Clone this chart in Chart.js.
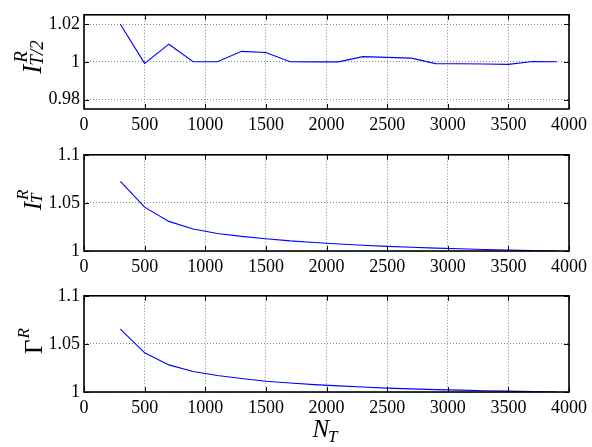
<!DOCTYPE html>
<html>
<head>
<meta charset="utf-8">
<script src="https://cdn.jsdelivr.net/npm/chart.js@4.4.0/dist/chart.umd.min.js"></script>
<style>
  html, body { margin: 0; padding: 0; background: #fff; }
  #wrap { position: relative; width: 592px; height: 447px; }
  canvas { position: absolute; left: 0; }
</style>
</head>
<body>
<div id="wrap">
  <canvas id="panelHalf" width="592" height="140" style="top:0px"></canvas>
  <canvas id="panelFull" width="592" height="141" style="top:140px"></canvas>
  <canvas id="panelGamma" width="592" height="166" style="top:281px"></canvas>
</div>
<script>
// Number of time steps N_T used in each run
const samples = [300, 500, 700, 900, 1100, 1300, 1500, 1700, 1900, 2100,
                 2300, 2500, 2700, 2900, 3100, 3300, 3500, 3700, 3900];

// Ratio I^R at T/2
const halfRatio = [1.0200, 0.9992, 1.0094, 1.0001, 1.0001, 1.0056, 1.0050, 1.0001, 1.0000, 1.0000,
                   1.0028, 1.0024, 1.0020, 0.9991, 0.9990, 0.9989, 0.9987, 1.0002, 1.0001];

// Ratio I^R at T
const fullRatio = [1.0724, 1.0456, 1.0308, 1.0229, 1.0182, 1.0152, 1.0128, 1.0105, 1.0088, 1.0073,
                   1.0060, 1.0048, 1.0039, 1.0030, 1.0023, 1.0016, 1.0010, 1.0005, 1.0000];

// Ratio Gamma^R
const gammaRatio = [1.0653, 1.0407, 1.0282, 1.0213, 1.0172, 1.0140, 1.0112, 1.0093, 1.0077, 1.0064,
                    1.0052, 1.0040, 1.0032, 1.0025, 1.0019, 1.0013, 1.0009, 1.0004, 1.0000];

// Axis ticks
const xTicks = [0, 500, 1000, 1500, 2000, 2500, 3000, 3500, 4000];
const xTickLabels = ['0', '500', '1000', '1500', '2000', '2500', '3000', '3500', '4000'];
const halfTicks = [0.98, 1, 1.02];
const halfTickLabels = ['0.98', '1', '1.02'];
const unitTicks = [1, 1.05, 1.1];
const unitTickLabels = ['1', '1.05', '1.1'];

const SERIF = "'Liberation Serif', 'DejaVu Serif', serif";
Chart.defaults.font.family = SERIF;
Chart.defaults.color = '#000';
const TICK_FONT = { family: SERIF, size: 18 };

function labelFor(values, labels, v) {
  const i = values.findIndex(t => Math.abs(t - v) < 1e-9);
  return i >= 0 ? labels[i] : '';
}

// Draws a math-style label rotated to read bottom-to-top.
// runs: {text, font, u (along baseline), v (+ = below baseline)}
function rotatedMath(ctx, baseX, centerY, runs) {
  ctx.save();
  let total = 0;
  runs.forEach(r => { ctx.font = r.font; r.w = ctx.measureText(r.text).width; total = Math.max(total, r.u + r.w); });
  ctx.translate(baseX, centerY);
  ctx.rotate(-Math.PI / 2);
  ctx.textAlign = 'left';
  ctx.textBaseline = 'alphabetic';
  ctx.fillStyle = '#000';
  runs.forEach(r => { ctx.font = r.font; ctx.fillText(r.text, r.u - total / 2, r.v); });
  ctx.restore();
}

function measure(ctx, font, text) {
  ctx.save(); ctx.font = font; const w = ctx.measureText(text).width; ctx.restore(); return w;
}

const MAIN_IT = 'italic 25px ' + SERIF;
const MAIN_UP = '25px ' + SERIF;
const SCRIPT_IT = 'italic 17px ' + SERIF;
const TOP_MAIN_IT = 'italic 27px ' + SERIF;
const TOP_SCRIPT_IT = 'italic 19px ' + SERIF;

// Axis-box frame with inward ticks on all four sides
const framePlugin = {
  id: 'frame',
  afterDraw(chart, args, opts) {
    const ctx = chart.ctx;
    const { left, top, right, bottom } = chart.chartArea;
    const xs = chart.scales.x, ys = chart.scales.y;
    ctx.save();
    ctx.strokeStyle = '#000';
    ctx.lineWidth = 1;
    ctx.beginPath();
    xTicks.forEach(v => {
      const p = Math.round(xs.getPixelForValue(v)) + 0.5;
      ctx.moveTo(p, top); ctx.lineTo(p, top + 5);
      ctx.moveTo(p, bottom); ctx.lineTo(p, bottom - 5);
    });
    opts.yTicks.forEach(v => {
      const p = Math.round(ys.getPixelForValue(v)) + 0.5;
      ctx.moveTo(left, p); ctx.lineTo(left + 5, p);
      ctx.moveTo(right, p); ctx.lineTo(right - 5, p);
    });
    ctx.stroke();
    ctx.lineWidth = 1.6;
    ctx.strokeRect(left, top, right - left, bottom - top);
    if (opts.drawLabel) opts.drawLabel(ctx, chart);
    ctx.restore();
  }
};

function makePanel(id, values, yMin, yMax, yTicks, yLabels, areaTop, areaBottom, drawLabel) {
  const canvas = document.getElementById(id);
  const h = canvas.height;
  return new Chart(canvas, {
    type: 'line',
    data: {
      datasets: [{
        data: samples.map((x, i) => ({ x: x, y: values[i] })),
        borderColor: '#0000ff',
        borderWidth: 1.1,
        pointRadius: 0,
        tension: 0,
        fill: false
      }]
    },
    options: {
      responsive: false,
      animation: false,
      devicePixelRatio: 1,
      events: [],
      layout: { padding: { left: 0, right: 19, top: areaTop, bottom: 0 } },
      plugins: {
        legend: { display: false },
        tooltip: { enabled: false },
        frame: { yTicks: yTicks, drawLabel: drawLabel }
      },
      scales: {
        x: {
          type: 'linear', min: 0, max: 4000,
          afterBuildTicks: s => { s.ticks = xTicks.map(v => ({ value: v })); },
          afterFit: s => { s.height = h - areaBottom; },
          ticks: {
            font: TICK_FONT, color: '#000', padding: 5, maxRotation: 0, autoSkip: false,
            callback: v => labelFor(xTicks, xTickLabels, v)
          },
          grid: { color: '#8a8a8a', lineWidth: 1, drawTicks: false },
          border: { display: false, dash: [1, 2] }
        },
        y: {
          type: 'linear', min: yMin, max: yMax,
          afterBuildTicks: s => { s.ticks = yTicks.map(v => ({ value: v })); },
          afterFit: s => { s.width = 84; },
          ticks: {
            font: TICK_FONT, color: '#000', padding: 4,
            callback: v => labelFor(yTicks, yLabels, v)
          },
          grid: { color: '#8a8a8a', lineWidth: 1, drawTicks: false },
          border: { display: false, dash: [1, 2] }
        }
      }
    },
    plugins: [framePlugin]
  });
}

// I^R_{T/2}
makePanel('panelHalf', halfRatio, 0.975, 1.025, halfTicks, halfTickLabels, 8, 109, (ctx, chart) => {
  const wI = measure(ctx, TOP_MAIN_IT, 'I');
  rotatedMath(ctx, 41, 57, [
    { text: 'I', font: TOP_MAIN_IT, u: 0, v: 0 },
    { text: 'R', font: TOP_SCRIPT_IT, u: wI + 2, v: -14 },
    { text: 'T/2', font: TOP_SCRIPT_IT, u: wI - 1, v: 2 }
  ]);
});

// I^R_T
makePanel('panelFull', fullRatio, 1, 1.1, unitTicks, unitTickLabels, 9, 111, (ctx, chart) => {
  const wI = measure(ctx, MAIN_IT, 'I');
  rotatedMath(ctx, 41, 60, [
    { text: 'I', font: MAIN_IT, u: 0, v: 0 },
    { text: 'R', font: SCRIPT_IT, u: wI + 2, v: -13 },
    { text: 'T', font: SCRIPT_IT, u: wI - 1, v: 1 }
  ]);
});

// Gamma^R plus the shared N_T axis title
makePanel('panelGamma', gammaRatio, 1, 1.1, unitTicks, unitTickLabels, 10, 111, (ctx, chart) => {
  const wG = measure(ctx, MAIN_UP, '\u0393');
  rotatedMath(ctx, 42, 60, [
    { text: '\u0393', font: MAIN_UP, u: 0, v: 0 },
    { text: 'R', font: SCRIPT_IT, u: wG + 1, v: -13 }
  ]);
  // horizontal title N_T
  ctx.save();
  ctx.fillStyle = '#000';
  ctx.textBaseline = 'alphabetic';
  ctx.textAlign = 'left';
  ctx.font = MAIN_IT;
  const wN = ctx.measureText('N').width;
  ctx.font = SCRIPT_IT;
  const wT = ctx.measureText('T').width;
  const cx = (chart.chartArea.left + chart.chartArea.right) / 2 - 1;
  const x0 = cx - (wN + wT) / 2;
  ctx.font = MAIN_IT;
  ctx.fillText('N', x0, 156);
  ctx.font = SCRIPT_IT;
  ctx.fillText('T', x0 + wN - 1, 161);
  ctx.restore();
});
</script>
</body>
</html>
